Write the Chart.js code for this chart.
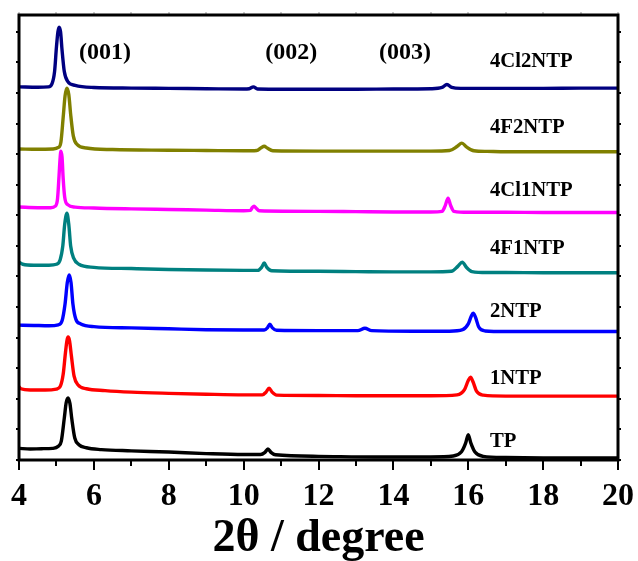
<!DOCTYPE html>
<html>
<head>
<meta charset="utf-8">
<script src="https://cdn.jsdelivr.net/npm/chart.js@4.4.0/dist/chart.umd.min.js"></script>
<style>
  body { margin: 0; background: #fff; }
  #wrap { width: 638px; height: 561px; }
</style>
</head>
<body>
<div id="wrap"><canvas id="xrd" width="638" height="561"></canvas></div>
<script>
// stacked XRD patterns, [2theta, offset intensity]
const tp = [[4.0,0.38],[4.3,0.36],[4.6,0.37],[4.9,0.38],[5.05,0.45],[5.13,0.62],[5.21,1.37],[5.26,1.87],[5.31,2.03],[5.36,1.85],[5.41,1.35],[5.49,0.72],[5.6,0.5],[5.8,0.4],[6.2,0.34],[7,0.3],[8,0.26],[9,0.21],[10,0.18],[10.45,0.18],[10.57,0.25],[10.65,0.36],[10.73,0.25],[10.85,0.17],[12,0.12],[13.5,0.1],[15,0.1],[15.6,0.13],[15.82,0.27],[15.93,0.55],[16.0,0.83],[16.07,0.55],[16.18,0.26],[16.4,0.12],[17,0.08],[18,0.07],[19,0.07],[20,0.065]];
const ntp1 = [[4.0,2.4],[4.05,2.33],[4.3,2.29],[4.7,2.29],[5.0,2.32],[5.1,2.4],[5.18,2.8],[5.24,3.5],[5.28,3.9],[5.31,4.02],[5.35,3.9],[5.4,3.4],[5.47,2.75],[5.58,2.45],[5.8,2.33],[6.3,2.27],[7,2.22],[8,2.18],[9,2.15],[10,2.13],[10.5,2.13],[10.6,2.22],[10.68,2.35],[10.76,2.22],[10.88,2.12],[12,2.11],[13,2.1],[14,2.1],[15,2.1],[15.7,2.13],[15.9,2.3],[16.0,2.6],[16.06,2.71],[16.13,2.55],[16.22,2.25],[16.4,2.12],[17,2.09],[18,2.09],[19,2.09],[20,2.09]];
const ntp2 = [[4.0,4.41],[4.4,4.4],[4.8,4.39],[5.05,4.42],[5.15,4.55],[5.23,5.1],[5.29,5.8],[5.34,6.05],[5.39,5.8],[5.44,5.1],[5.52,4.6],[5.65,4.45],[6,4.36],[7,4.32],[8,4.29],[9,4.26],[10,4.25],[10.55,4.25],[10.64,4.33],[10.7,4.44],[10.77,4.32],[10.88,4.24],[12,4.23],[13.05,4.23],[13.24,4.31],[13.42,4.23],[14.5,4.21],[15.5,4.21],[15.85,4.26],[16.0,4.45],[16.08,4.7],[16.13,4.8],[16.19,4.68],[16.28,4.35],[16.45,4.22],[17,4.2],[18,4.2],[19,4.2],[20,4.2]];
const f1ntp = [[4.0,6.47],[4.1,6.4],[4.4,6.37],[4.8,6.37],[5.0,6.4],[5.1,6.55],[5.17,7.0],[5.22,7.7],[5.28,8.07],[5.33,7.7],[5.38,7.0],[5.46,6.6],[5.6,6.4],[6,6.3],[7,6.26],[8,6.23],[9,6.21],[10,6.2],[10.38,6.2],[10.48,6.3],[10.55,6.44],[10.62,6.3],[10.75,6.19],[12,6.17],[13,6.16],[14,6.15],[15,6.15],[15.55,6.17],[15.72,6.33],[15.84,6.47],[15.95,6.3],[16.1,6.16],[16.5,6.13],[17,6.13],[18,6.12],[19,6.12],[20,6.12]];
const cl1ntp = [[4.0,8.27],[4.5,8.25],[4.85,8.25],[4.97,8.3],[5.03,8.55],[5.07,9.3],[5.1,9.9],[5.12,10.1],[5.15,9.9],[5.18,9.2],[5.22,8.6],[5.3,8.35],[5.5,8.27],[6,8.24],[7,8.21],[8,8.19],[9,8.17],[10,8.15],[10.18,8.16],[10.23,8.25],[10.28,8.3],[10.33,8.24],[10.42,8.15],[12,8.13],[13,8.12],[14,8.11],[15,8.11],[15.3,8.13],[15.38,8.3],[15.46,8.56],[15.53,8.32],[15.62,8.13],[16,8.1],[17,8.1],[18,8.09],[19,8.09],[20,8.09]];
const f2ntp = [[4.0,10.17],[4.5,10.16],[4.9,10.17],[5.05,10.22],[5.12,10.4],[5.18,11.2],[5.23,11.9],[5.28,12.16],[5.33,11.95],[5.38,11.3],[5.45,10.6],[5.55,10.32],[5.8,10.2],[6.5,10.15],[8,10.13],[9,10.12],[10,10.11],[10.35,10.12],[10.47,10.21],[10.55,10.26],[10.63,10.2],[10.78,10.11],[12,10.1],[13,10.1],[14,10.1],[15,10.1],[15.5,10.12],[15.7,10.25],[15.83,10.36],[15.95,10.24],[16.15,10.11],[16.5,10.09],[17,10.08],[18,10.08],[19,10.08],[20,10.08]];
const cl2ntp = [[4.0,12.2],[4.5,12.19],[4.78,12.2],[4.88,12.3],[4.95,12.7],[5.0,13.5],[5.04,14.0],[5.07,14.15],[5.11,14.0],[5.15,13.4],[5.21,12.7],[5.3,12.38],[5.5,12.25],[6,12.18],[7,12.16],[8,12.15],[9,12.14],[10,12.13],[10.15,12.14],[10.26,12.2],[10.37,12.13],[12,12.12],[13,12.12],[14,12.13],[15,12.14],[15.3,12.18],[15.43,12.28],[15.56,12.18],[15.8,12.15],[17,12.15],[18,12.15],[19,12.16],[20,12.16]];

const names = ['TP', '1NTP', '2NTP', '4F1NTP', '4Cl1NTP', '4F2NTP', '4Cl2NTP'];
const colors = ['#000000', '#ff0000', '#0000ff', '#008080', '#ff00ff', '#808000', '#000080'];
const series = [tp, ntp1, ntp2, f1ntp, cl1ntp, f2ntp, cl2ntp];
// where each name sits (2theta, intensity)
const nameX = 16.58;
const nameY = [0.62, 2.68, 4.87, 6.93, 8.82, 10.88, 13.04];
const planes = ['(001)', '(002)', '(003)'];
const planeX = [6.3, 11.27, 14.31];
const planeY = 13.33;

const xTicks = [4, 6, 8, 10, 12, 14, 16, 18, 20];

// frame, outward ticks and the text labels
const decor = {
  id: 'decor',
  afterDraw(chart) {
    const ctx = chart.ctx;
    const a = chart.chartArea;
    const xs = chart.scales.x, ys = chart.scales.y;
    ctx.save();
    ctx.strokeStyle = '#000';
    ctx.lineWidth = 2;
    for (let v = 4; v <= 20; v++) {
      const px = Math.round(xs.getPixelForValue(v));
      const len = v % 2 == 0 ? 10 : 6;
      ctx.beginPath();
      ctx.moveTo(px, a.bottom); ctx.lineTo(px, a.bottom + len);
      ctx.stroke();
      ctx.lineWidth = 1;
      ctx.strokeStyle = '#999';
      ctx.beginPath();
      ctx.moveTo(px, a.top); ctx.lineTo(px, a.top - 3);
      ctx.stroke();
      ctx.lineWidth = 2;
      ctx.strokeStyle = '#000';
    }
    for (let v = 0; v <= 14; v++) {
      const py = Math.round(ys.getPixelForValue(v));
      ctx.beginPath();
      ctx.moveTo(a.left, py); ctx.lineTo(a.left - 3, py);
      ctx.moveTo(a.right, py); ctx.lineTo(a.right + 3, py);
      ctx.stroke();
    }
    ctx.lineWidth = 3;
    ctx.strokeRect(a.left, a.top, a.right - a.left, a.bottom - a.top);

    ctx.fillStyle = '#000';
    ctx.textBaseline = 'middle';
    ctx.font = 'bold 22px "Liberation Serif"';
    ctx.textAlign = 'left';
    names.forEach((n, i) => {
      const px = xs.getPixelForValue(nameX), py = ys.getPixelForValue(nameY[i]);
      ctx.save();
      ctx.translate(px, py);
      ctx.scale(0.94, 1);
      ctx.fillText(n, 0, 0);
      ctx.restore();
    });
    ctx.font = 'bold 24px "Liberation Serif"';
    ctx.textAlign = 'center';
    planes.forEach((p, i) => {
      ctx.fillText(p, xs.getPixelForValue(planeX[i]), ys.getPixelForValue(planeY));
    });
    ctx.restore();
  }
};

new Chart(document.getElementById('xrd'), {
  type: 'line',
  data: {
    datasets: series.map((s, i) => ({
      label: names[i],
      data: s.map(p => ({ x: p[0], y: p[1] })),
      borderColor: colors[i],
      borderWidth: 3.4,
      pointRadius: 0,
      cubicInterpolationMode: 'monotone',
      fill: false
    }))
  },
  options: {
    responsive: false,
    animation: false,
    layout: { padding: { left: 19, right: 20, top: 15, bottom: 0 } },
    plugins: { legend: { display: false }, tooltip: { enabled: false } },
    scales: {
      x: {
        type: 'linear', min: 4, max: 20,
        afterBuildTicks: sc => { sc.ticks = xTicks.map(v => ({ value: v })); },
        afterFit: sc => { sc.height = 101; sc.paddingLeft = 0; sc.paddingRight = 0; },
        grid: { display: false, drawTicks: false },
        border: { display: false },
        ticks: { padding: 18, color: '#000', font: { family: 'Liberation Serif', size: 32, weight: 'bold' } },
        title: {
          display: true, text: '2θ / degree', color: '#000', padding: 0,
          font: { family: 'Liberation Serif', size: 46, weight: 'bold', lineHeight: 0.95 }
        }
      },
      y: { type: 'linear', min: 0, max: 14.55, display: false }
    }
  },
  plugins: [decor]
});
</script>
</body>
</html>
